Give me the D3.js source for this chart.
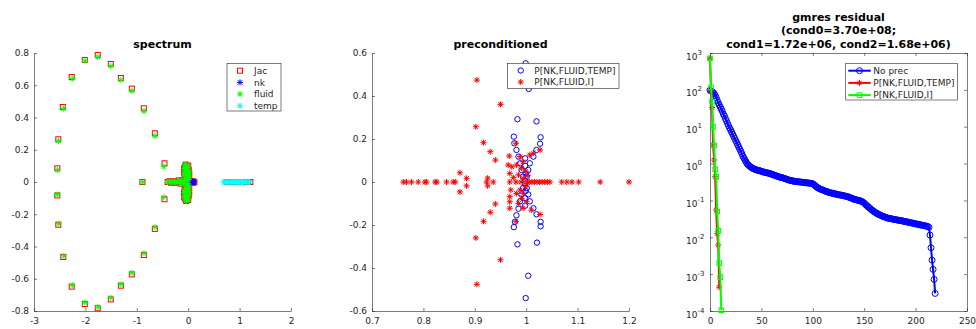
<!DOCTYPE html>
<html>
<head>
<meta charset="utf-8">
<script src="https://cdn.jsdelivr.net/npm/d3@7"></script>
<style>
  body { margin: 0; background: #fff; }
  svg { font-family: "DejaVu Sans", sans-serif; }
</style>
</head>
<body>
<svg id="chart" width="976" height="329"></svg>
<script>
// ---- spectrum (eigenvalues as [re, im]) ----
const jacRing = [
  [-2.546, 0.085], [-2.527, 0.265], [-2.44, 0.465], [-2.266, 0.651], [-2.012, 0.757], [-1.759, 0.788],
  [-1.506, 0.732], [-1.31, 0.645], [-1.097, 0.579], [-0.863, 0.457], [-0.649, 0.302], [-0.461, 0.116],
  [-2.546, -0.083], [-2.527, -0.265], [-2.43, -0.465], [-2.266, -0.649], [-2.012, -0.757], [-1.759, -0.783],
  [-1.506, -0.728], [-1.31, -0.643], [-1.097, -0.573], [-0.863, -0.453], [-0.649, -0.291], [-0.461, -0.107],
  [-0.89, 0]
];
const fluidRing = [
  [-2.546, 0.075], [-2.522, 0.255], [-2.43, 0.455], [-2.255, 0.641], [-2.01, 0.752], [-1.757, 0.775],
  [-1.506, 0.718], [-1.31, 0.632], [-1.097, 0.565], [-0.86, 0.44], [-0.645, 0.285], [-0.475, 0.095],
  [-2.546, -0.078], [-2.52, -0.258], [-2.42, -0.458], [-2.255, -0.64], [-2.01, -0.748], [-1.757, -0.775],
  [-1.506, -0.718], [-1.31, -0.635], [-1.095, -0.563], [-0.86, -0.442], [-0.645, -0.28], [-0.475, -0.095],
  [-0.885, 0]
];
const coreEig = [
  [-0.02, 0.01], [0.01, 0.015], [-0.05, 0.02], [0.02, 0.03], [-0.02, 0.03], [-0.07, 0.04], [0.01, 0.045],
  [-0.04, 0.05], [-0.08, 0.055], [0.02, 0.06], [-0.02, 0.065], [-0.06, 0.07], [0.01, 0.075], [-0.04, 0.08],
  [-0.08, 0.085], [-0.01, 0.09], [-0.06, 0.095], [-0.03, 0.1], [-0.05, 0.108], [0.0, 0.102],
  [-0.02, -0.01], [0.01, -0.02], [-0.05, -0.025], [0.02, -0.035], [-0.02, -0.04], [-0.07, -0.05], [0.01, -0.055],
  [-0.04, -0.06], [-0.08, -0.065], [0.02, -0.07], [-0.02, -0.075], [-0.06, -0.08], [0.01, -0.085], [-0.04, -0.09],
  [-0.08, -0.095], [-0.01, -0.1], [-0.06, -0.105], [-0.03, -0.11], [-0.04, -0.118], [0.0, -0.112],
  [-0.40, 0], [-0.36, 0.005], [-0.33, -0.005], [-0.30, 0], [-0.27, 0.005], [-0.24, -0.005], [-0.21, 0],
  [-0.18, 0.01], [-0.15, -0.01], [-0.12, 0.01], [-0.10, -0.01], [-0.08, 0]
];
const nkEig = [[0.04, 0], [0.07, 0], [0.09, 0.005], [0.10, -0.005], [0.12, 0]];
const tempEig = [
  [0.69, 0], [0.71, 0], [0.74, 0], [0.76, 0], [0.79, 0], [0.82, 0], [0.84, 0], [0.87, 0], [0.90, 0], [0.92, 0],
  [0.95, 0], [0.98, 0], [1.00, 0], [1.03, 0], [1.06, 0], [1.08, 0], [1.11, 0], [1.14, 0], [1.17, 0], [1.20, 0]
];
const jacTempEig = [[0.75, 0], [0.86, 0], [0.97, 0], [1.12, 0], [1.16, 0], [1.21, 0]];

// ---- preconditioned spectra ----
const precTempEig = [
  [0.999, 0.552], [1.005, 0.433], [0.983, 0.292], [1.020, 0.282], [0.976, 0.211], [1.028, 0.208],
  [0.977, 0.18], [1.027, 0.178], [0.981, 0.149], [1.020, 0.149], [0.985, 0.118], [1.014, 0.118],
  [0.988, 0.087], [1.007, 0.087], [0.991, 0.056], [1.004, 0.056], [0.994, 0.025], [1.001, 0.025],
  [0.998, 0.11], [0.998, 0.075], [0.999, 0.04], [0.998, 0.005],
  [0.999, -0.54], [1.004, -0.436], [0.983, -0.29], [1.021, -0.282], [0.976, -0.21], [1.028, -0.206],
  [0.978, -0.185], [1.028, -0.185], [0.981, -0.155], [1.020, -0.15], [0.985, -0.124], [1.014, -0.122],
  [0.988, -0.09], [1.007, -0.09], [0.991, -0.058], [1.004, -0.058], [0.994, -0.028], [1.001, -0.028],
  [0.998, -0.11], [0.998, -0.075], [0.999, -0.042], [0.998, -0.008]
];
const precIdEig = [
  [0.761, 0], [0.767, 0], [0.777, 0], [0.790, 0], [0.803, 0], [0.806, 0], [0.823, 0], [0.826, 0], [0.845, 0],
  [0.858, 0], [0.862, 0], [0.923, 0], [0.936, 0], [0.968, 0], [0.980, 0], [0.990, 0], [1.001, 0], [1.006, 0],
  [1.011, 0], [1.016, 0], [1.021, 0], [1.026, 0], [1.031, 0], [1.036, 0], [1.041, 0], [1.046, 0], [1.069, 0],
  [1.079, 0], [1.089, 0], [1.102, 0], [1.144, 0], [1.200, 0],
  [0.871, 0.043], [0.871, -0.046], [0.884, 0.017], [0.884, -0.018], [0.925, 0.018], [0.925, -0.018],
  [0.904, 0.474], [0.950, 0.361], [0.902, 0.257], [0.917, 0.183], [0.930, 0.141], [0.940, 0.102],
  [0.980, 0.18], [0.967, 0.121], [0.965, 0.079], [0.972, 0.071], [0.968, 0.04], [0.988, 0.118],
  [0.994, 0.094], [0.981, 0.079], [0.991, 0.064], [0.985, 0.033], [0.994, 0.017], [1.007, 0.126],
  [1.014, 0.134], [1.027, 0.149], [0.999, 0.05], [1.003, 0.03], [0.975, 0.02],
  [0.904, -0.476], [0.950, -0.362], [0.902, -0.26], [0.917, -0.183], [0.930, -0.141], [0.940, -0.102],
  [0.980, -0.183], [0.968, -0.122], [0.968, -0.092], [0.968, -0.068], [0.970, -0.037], [0.988, -0.037],
  [0.981, -0.053], [0.994, -0.053], [0.991, -0.076], [1.001, -0.092], [0.994, -0.122], [1.010, -0.13],
  [1.027, -0.151], [0.999, -0.02], [0.985, -0.1]
];

// ---- gmres residual histories (iteration = array index) ----
const noPrecRes = [
  98, 93, 89, 85, 79, 71, 62, 52, 45, 39,
  34, 30, 26, 22, 19.5, 16.6, 14.5, 12.3, 10.7, 9.3,
  8.3, 7.2, 6.3, 5.5, 4.8, 4.2, 3.7, 3.2, 2.8, 2.45,
  2.14, 1.86, 1.58, 1.41, 1.26, 1.12, 1.0, 0.93, 0.88, 0.83,
  0.79, 0.76, 0.73, 0.71, 0.69, 0.68, 0.66, 0.65, 0.645, 0.63,
  0.617, 0.603, 0.589, 0.582, 0.575, 0.562, 0.556, 0.55, 0.537, 0.525,
  0.519, 0.501, 0.49, 0.479, 0.468, 0.457, 0.447, 0.437, 0.427, 0.422,
  0.417, 0.407, 0.398, 0.389, 0.38, 0.372, 0.363, 0.355, 0.351, 0.347,
  0.339, 0.335, 0.331, 0.327, 0.324, 0.324, 0.32, 0.316, 0.316, 0.313,
  0.309, 0.309, 0.305, 0.302, 0.302, 0.299, 0.295, 0.295, 0.292, 0.288,
  0.282, 0.269, 0.257, 0.24, 0.229, 0.219, 0.214, 0.204, 0.2, 0.195,
  0.191, 0.184, 0.18, 0.176, 0.172, 0.168, 0.164, 0.162, 0.158, 0.157,
  0.155, 0.151, 0.15, 0.148, 0.145, 0.143, 0.141, 0.14, 0.138, 0.136,
  0.135, 0.132, 0.13, 0.129, 0.126, 0.123, 0.12, 0.117, 0.115, 0.111,
  0.108, 0.106, 0.105, 0.102, 0.101, 0.1, 0.098, 0.095, 0.092, 0.089,
  0.085, 0.079, 0.074, 0.071, 0.066, 0.063, 0.06, 0.056, 0.054, 0.051,
  0.049, 0.0468, 0.0447, 0.0437, 0.0417, 0.0407, 0.0398, 0.038, 0.0372, 0.0363,
  0.0355, 0.0347, 0.0339, 0.0331, 0.0327, 0.0324, 0.032, 0.0316, 0.0309, 0.0305,
  0.0302, 0.0299, 0.0295, 0.0292, 0.0288, 0.0285, 0.0282, 0.0279, 0.0275, 0.0269,
  0.0266, 0.0263, 0.026, 0.0257, 0.0251, 0.0248, 0.0245, 0.0243, 0.024, 0.0234,
  0.0232, 0.0229, 0.0226, 0.0224, 0.0219, 0.0216, 0.0214, 0.0211, 0.0209, 0.0204,
  0.0202, 0.02, 0.0195, 0.0186, 0.0115, 0.0052, 0.0024, 0.00135, 0.00072, 0.0003
];
const precTempRes = [718, 89, 33, 3.2, 1.25, 0.44, 0.055, 0.0126, 0.0062, 0.00044];
const precIdRes = [718, 117, 48, 10, 3.1, 0.7, 0.44, 0.05, 0.015, 0.002, 0.00083, 0.000105];

const residTitle = ["gmres residual", "(cond0=3.70e+08;", "cond1=1.72e+06, cond2=1.68e+06)"];

// ---------------------------------------------------------------
const svg = d3.select("#chart");
const axisCol = "#262626";
const starPath = "M-3,0H3M0,-3V3M-2.2,-2.2L2.2,2.2M-2.2,2.2L2.2,-2.2";
const fmt = (d) => String(Math.round(d * 10) / 10);
const ident = (v) => v;

function stars(g, pts, x, y, color) {
  g.append("g").selectAll("path").data(pts).enter().append("path")
    .attr("d", starPath)
    .attr("transform", (d) => `translate(${x(d[0])},${y(d[1])})`)
    .attr("fill", "none").attr("stroke", color).attr("stroke-width", 1);
}
function squares(g, pts, x, y, color, s) {
  g.append("g").selectAll("rect").data(pts).enter().append("rect")
    .attr("x", (d) => x(d[0]) - s / 2).attr("y", (d) => y(d[1]) - s / 2)
    .attr("width", s).attr("height", s)
    .attr("fill", "none").attr("stroke", color).attr("stroke-width", 1);
}
function circles(g, pts, x, y, color, r) {
  g.append("g").selectAll("circle").data(pts).enter().append("circle")
    .attr("cx", (d) => x(d[0])).attr("cy", (d) => y(d[1])).attr("r", r)
    .attr("fill", "none").attr("stroke", color).attr("stroke-width", 1);
}

function styleAxis(sel) {
  sel.selectAll(".domain").attr("stroke", axisCol).attr("stroke-width", 0.6);
  sel.selectAll(".tick line").attr("stroke", axisCol).attr("stroke-width", 0.6);
  sel.selectAll("text").attr("fill", axisCol).attr("font-size", 9)
    .attr("font-family", "DejaVu Sans, sans-serif");
}

function linearAxes(x, y, xTicks, yTicks) {
  const [x0] = x.range();
  const [y0] = y.range();
  svg.append("g").attr("transform", `translate(0,${y0})`)
    .call(d3.axisBottom(x).tickValues(xTicks).tickFormat(fmt).tickSize(-3).tickSizeOuter(0).tickPadding(7))
    .call(styleAxis);
  svg.append("g").attr("transform", `translate(${x0},0)`)
    .call(d3.axisLeft(y).tickValues(yTicks).tickFormat(fmt).tickSize(-3).tickSizeOuter(0).tickPadding(5))
    .call(styleAxis);
}

function title(lines, cx) {
  const base = 47.5 - (lines.length - 1) * 13.5;
  lines.forEach((t, i) => {
    svg.append("text").attr("x", cx).attr("y", base + i * 13.5)
      .attr("text-anchor", "middle").attr("font-size", 11).attr("font-weight", "bold")
      .attr("fill", "#000").text(t);
  });
}

function legendBox(x0, y0, w, h) {
  return svg.append("rect").attr("x", x0).attr("y", y0).attr("width", w).attr("height", h)
    .attr("fill", "#fff").attr("stroke", axisCol).attr("stroke-width", 0.6);
}
function legendText(x, y, t) {
  svg.append("text").attr("x", x).attr("y", y).attr("dy", "0.35em")
    .attr("font-size", 9).attr("fill", axisCol).text(t);
}

// ---------------- panel 1: spectrum ----------------
const x1 = d3.scaleLinear().domain([-3, 2]).range([34, 291]);
const y1 = d3.scaleLinear().domain([-0.8, 0.8]).range([311, 53]);
linearAxes(x1, y1, [-3, -2, -1, 0, 1, 2], [-0.8, -0.6, -0.4, -0.2, 0, 0.2, 0.4, 0.6, 0.8]);
const g1 = svg.append("g");
squares(g1, jacRing.concat(coreEig, nkEig, jacTempEig), x1, y1, "#ff0000", 5);
stars(g1, nkEig, x1, y1, "#0000ff");
stars(g1, fluidRing.concat(coreEig), x1, y1, "#00ff00");
stars(g1, tempEig, x1, y1, "#00ffff");
title(["spectrum"], 162.5);

legendBox(227, 63.5, 54, 47.5);
const leg1 = [["Jac", "#ff0000", "sq"], ["nk", "#0000ff", "st"], ["fluid", "#00ff00", "st"], ["temp", "#00ffff", "st"]];
leg1.forEach((d, i) => {
  const yy = 70.7 + i * 11.7;
  const lg = svg.append("g");
  if (d[2] === "sq") squares(lg, [[240, yy]], ident, ident, d[1], 5);
  else stars(lg, [[240, yy]], ident, ident, d[1]);
  legendText(254, yy, d[0]);
});

// ---------------- panel 2: preconditioned ----------------
const x2 = d3.scaleLinear().domain([0.7, 1.2]).range([372, 629]);
const y2 = d3.scaleLinear().domain([-0.6, 0.6]).range([311, 53]);
linearAxes(x2, y2, [0.7, 0.8, 0.9, 1.0, 1.1, 1.2], [-0.6, -0.4, -0.2, 0, 0.2, 0.4, 0.6]);
const g2 = svg.append("g");
circles(g2, precTempEig, x2, y2, "#0000ff", 2.7);
stars(g2, precIdEig, x2, y2, "#ff0000");
title(["preconditioned"], 500.5);

legendBox(507.5, 63.5, 111.5, 25);
circles(svg.append("g"), [[520.7, 70.5]], ident, ident, "#0000ff", 2.7);
legendText(534.3, 70.5, "P[NK,FLUID,TEMP]");
stars(svg.append("g"), [[520.7, 82]], ident, ident, "#ff0000");
legendText(534.3, 82, "P[NK,FLUID,I]");

// ---------------- panel 3: gmres residual ----------------
const x3 = d3.scaleLinear().domain([0, 250]).range([710, 967]);
const y3 = d3.scaleLog().domain([1e-4, 1e3]).range([311, 53]);
const decades = [1e-4, 1e-3, 1e-2, 1e-1, 1, 10, 100, 1000];
const xTicks3 = [0, 50, 100, 150, 200, 250];
svg.append("g").attr("transform", "translate(0,311)")
  .call(d3.axisBottom(x3).tickValues(xTicks3).tickFormat(d3.format("d"))
    .tickSize(-3).tickSizeOuter(0).tickPadding(7))
  .call(styleAxis);
svg.append("g").attr("transform", "translate(0,53)")
  .call(d3.axisTop(x3).tickValues(xTicks3).tickFormat("").tickSize(-3).tickSizeOuter(0))
  .call(styleAxis);
svg.append("g").attr("transform", "translate(710,0)")
  .call(d3.axisLeft(y3).tickValues(decades).tickFormat("").tickSize(-3).tickSizeOuter(0))
  .call(styleAxis);
svg.append("g").attr("transform", "translate(967,0)")
  .call(d3.axisRight(y3).tickValues(decades).tickFormat("").tickSize(-3).tickSizeOuter(0))
  .call(styleAxis);
decades.forEach((d) => {
  const t = svg.append("text").attr("x", 686).attr("y", y3(d) + 6.5)
    .attr("font-size", 9).attr("fill", axisCol);
  t.append("tspan").text("10");
  t.append("tspan").attr("dy", -5).attr("font-size", 7).text(String(Math.round(Math.log10(d))));
});

const g3 = svg.append("g");
const line3 = d3.line().x((d) => x3(d[0])).y((d) => y3(d[1]));
const noPrec = noPrecRes.map((v, i) => [i, v]);
const precTemp = precTempRes.map((v, i) => [i, v]);
const precId = precIdRes.map((v, i) => [i, v]);

g3.append("path").datum(noPrec).attr("d", line3).attr("fill", "none").attr("stroke", "#0000ff").attr("stroke-width", 2);
circles(g3, noPrec, x3, y3, "#0000ff", 3);
g3.append("path").datum(precTemp).attr("d", line3).attr("fill", "none").attr("stroke", "#ff0000").attr("stroke-width", 2);
stars(g3, precTemp, x3, y3, "#ff0000");
g3.append("path").datum(precId).attr("d", line3).attr("fill", "none").attr("stroke", "#00ff00").attr("stroke-width", 2);
squares(g3, precId, x3, y3, "#00ff00", 4.6);
title(residTitle, 838.5);

legendBox(845.7, 63.5, 111.6, 36.5);
const leg3 = [["No prec", "#0000ff", "o"], ["P[NK,FLUID,TEMP]", "#ff0000", "st"], ["P[NK,FLUID,I]", "#00ff00", "sq"]];
leg3.forEach((d, i) => {
  const yy = 70.7 + i * 12.2;
  svg.append("line").attr("x1", 848.3).attr("x2", 870.7).attr("y1", yy).attr("y2", yy)
    .attr("stroke", d[1]).attr("stroke-width", 2);
  const lg = svg.append("g");
  if (d[2] === "o") circles(lg, [[859.5, yy]], ident, ident, d[1], 3);
  else if (d[2] === "sq") squares(lg, [[859.5, yy]], ident, ident, d[1], 4.6);
  else stars(lg, [[859.5, yy]], ident, ident, d[1]);
  legendText(873.3, yy, d[0]);
});
</script>
</body>
</html>
